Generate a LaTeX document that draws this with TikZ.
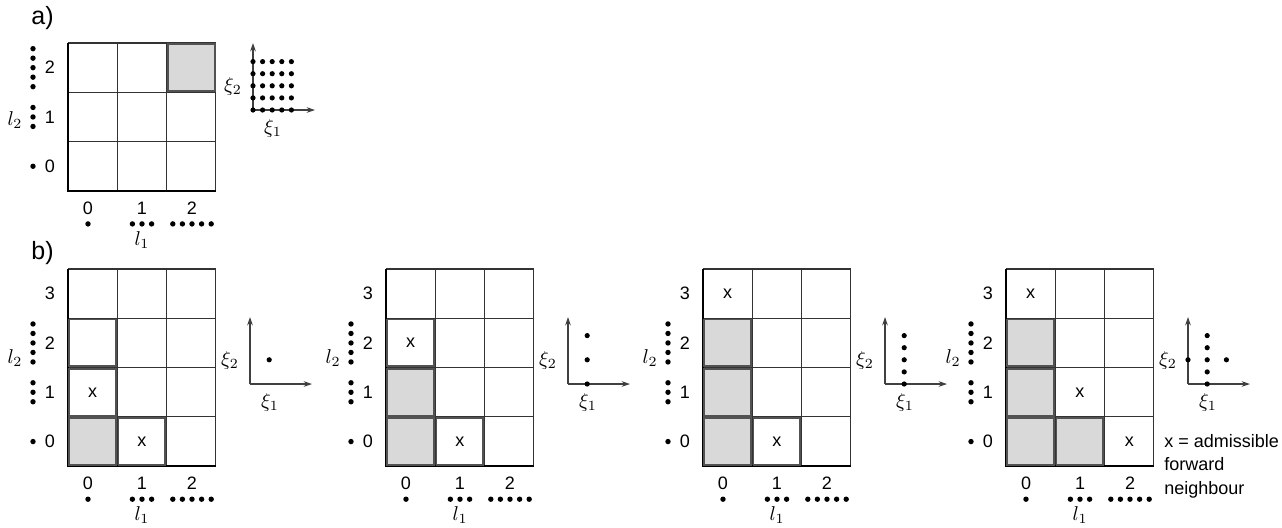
\documentclass[tikz,border=0pt]{standalone}
\usepackage[no-math]{fontspec}
\setmainfont{Liberation Sans}
\usetikzlibrary{arrows.meta}
\begin{document}
\begin{tikzpicture}[x=0.5pt,y=-0.5pt,
	gridline/.style={draw=black!80, line width=0.55pt},
	frameline/.style={draw=black, line width=1.1pt},
	cellframe/.style={draw=black!68, line width=0.95pt},
	shaded/.style={fill=black!15},
	axisline/.style={draw=black!75, line width=0.55pt, -{Stealth[length=4.2pt,width=2.8pt]}},
	txt/.style={font=\fontsize{9}{11}\selectfont, inner sep=0pt},
	mth/.style={font=\fontsize{10}{12}\selectfont, inner sep=0pt},
	panellabel/.style={font=\fontsize{12.5}{14}\selectfont, inner sep=0pt, anchor=base west}]
	\newcommand{\cellsize}{49.3}
	\newcommand{\dotsep}{9.6}
	\newcommand{\xisep}{9.6}
	\newcommand{\etasep}{12.1}
	% one cell (col, row) of the current grid
	\newcommand{\markcell}[3]{\path[#1] ({#2*\cellsize},{(\nrows-1-#3)*\cellsize}) rectangle ++(\cellsize,\cellsize);}
	\newcommand{\framecell}[2]{\path[cellframe] ({#1*\cellsize+1.2},{(\nrows-1-#2)*\cellsize+1.2}) rectangle ++(\cellsize-2.4,\cellsize-2.4);}
	\newcommand{\xcell}[3]{\node[txt] (#1) at ({(#2+0.5)*\cellsize},{(\nrows-0.5-#3)*\cellsize}) {x};}
	% grid lines, level numbers and level dots
	\newcommand{\gridbody}[1]{%
		\pgfmathtruncatemacro{\lastrow}{\nrows-1}
		\pgfmathsetmacro{\gh}{\nrows*\cellsize}
		\foreach \k in {1,2}
		\draw[gridline] ({\k*\cellsize},0) -- ({\k*\cellsize},\gh);
		\foreach \k in {1,...,\lastrow}
		\draw[gridline] (0,{\k*\cellsize}) -- ({3*\cellsize},{\k*\cellsize});
		\draw[gridline] (0,0) -- ({3*\cellsize},0) -- ({3*\cellsize},\gh);
		\draw[frameline] (0,0) -- (0,\gh) -- ({3*\cellsize},\gh);
		\foreach \j in {0,...,\lastrow}
		\node[txt] (#1-r\j) at (-18,{(\nrows-0.5-\j)*\cellsize}) {\j};
		\foreach \j/\offs in {0/{0},1/{-1,0,1},2/{-2,-1,0,1,2}}
		\foreach \m in \offs
		\fill (-35,{(\nrows-0.5-\j)*\cellsize+\m*9.5}) circle (2.7);
		\foreach \i/\lx in {0/20,1/74,2/124}
		\node[txt] (#1-c\i) at (\lx,\gh+17) {\i};
		\foreach \i/\lx/\offs in {0/20/{0},1/74/{-1,0,1},2/124/{-2,-1,0,1,2}}
		\foreach \m in \offs
		\fill ({\lx+\m*\dotsep},\gh+33) circle (2.7);
		\node[mth] (#1-l1) at (74,\gh+49) {$l_1$};
	}
	% xi axes of the sparse grid
	\newcommand{\xiaxes}[3]{%
		\coordinate (#1-o) at (#2,#3);
		\coordinate (#1-ytip) at (#2,#3-67);
		\coordinate (#1-xtip) at (#2+62,#3);
		\draw[axisline] (#1-o) -- (#1-ytip);
		\draw[axisline] (#1-o) -- (#1-xtip);
		\node[mth] (#1-xi2) at (#2-20,#3-24) {$\xi_2$};
		\node[mth] (#1-xi1) at (#2+20,#3+18) {$\xi_1$};
	}
	\newcommand{\xipoints}[3]{\foreach \a/\b in {#3} \fill ({#1+\a*\xisep},{#2-\b*\etasep}) circle (2.6);}
	%a)
	\node[panellabel] (tagA) at (31,24) {a)};
	\begin{scope}[shift={(68,43)}]
		\def\nrows{3}
		\markcell{shaded}{2}{2}
		\gridbody{ga}
		\framecell{2}{2}
		\node[mth] (ga-l2) at (-53,77) {$l_2$};
		\xiaxes{ia}{185}{67}
		\foreach \a in {0,...,4} \foreach \b in {0,...,4}
		\fill ({185+\a*\xisep},{67-\b*\etasep}) circle (2.6);
	\end{scope}
	%b)
	\node[panellabel] (tagB) at (31,259) {b)};
	%first step
	\begin{scope}[shift={(68,269)}]
		\def\nrows{4}
		\markcell{shaded}{0}{0}
		\gridbody{gb1}
		\framecell{0}{0} \framecell{0}{1} \framecell{0}{2} \framecell{1}{0}
		\xcell{gb1-x01}{0}{1} \xcell{gb1-x10}{1}{0}
		\node[mth] (gb1-l2) at (-53,89) {$l_2$};
		\xiaxes{ib1}{182}{115}
		\xipoints{182}{115}{2/2}
	\end{scope}
	%second step
	\begin{scope}[shift={(386,269)}]
		\def\nrows{4}
		\markcell{shaded}{0}{0} \markcell{shaded}{0}{1}
		\gridbody{gb2}
		\framecell{0}{0} \framecell{0}{1} \framecell{0}{2} \framecell{1}{0}
		\xcell{gb2-x02}{0}{2} \xcell{gb2-x10}{1}{0}
		\node[mth] (gb2-l2) at (-53,89) {$l_2$};
		\xiaxes{ib2}{182}{115}
		\xipoints{182}{115}{2/0,2/2,2/4}
	\end{scope}
	%third step
	\begin{scope}[shift={(703,269)}]
		\def\nrows{4}
		\markcell{shaded}{0}{0} \markcell{shaded}{0}{1} \markcell{shaded}{0}{2}
		\gridbody{gb3}
		\framecell{0}{0} \framecell{0}{1} \framecell{0}{2} \framecell{1}{0}
		\xcell{gb3-x03}{0}{3} \xcell{gb3-x10}{1}{0}
		\node[mth] (gb3-l2) at (-53,89) {$l_2$};
		\xiaxes{ib3}{182}{115}
		\xipoints{182}{115}{2/0,2/1,2/2,2/3,2/4}
	\end{scope}
	%fourth step
	\begin{scope}[shift={(1006,269)}]
		\def\nrows{4}
		\markcell{shaded}{0}{0} \markcell{shaded}{0}{1} \markcell{shaded}{0}{2} \markcell{shaded}{1}{0}
		\gridbody{gb4}
		\framecell{0}{0} \framecell{0}{1} \framecell{0}{2} \framecell{1}{0}
		\xcell{gb4-x03}{0}{3} \xcell{gb4-x11}{1}{1} \xcell{gb4-x20}{2}{0}
		\node[mth] (gb4-l2) at (-53,89) {$l_2$};
		\xiaxes{ib4}{182}{115}
		\xipoints{182}{115}{2/0,2/1,2/2,2/3,2/4,0/2,4/2}
	\end{scope}
	%legend
	\node[txt, anchor=north west, align=left, font=\fontsize{9}{11.7}\selectfont] (legend) at (1164,434)
	{x = admissible\\forward\\neighbour};
	\useasboundingbox (0,0) rectangle (1282,527);
\end{tikzpicture}
\end{document}
